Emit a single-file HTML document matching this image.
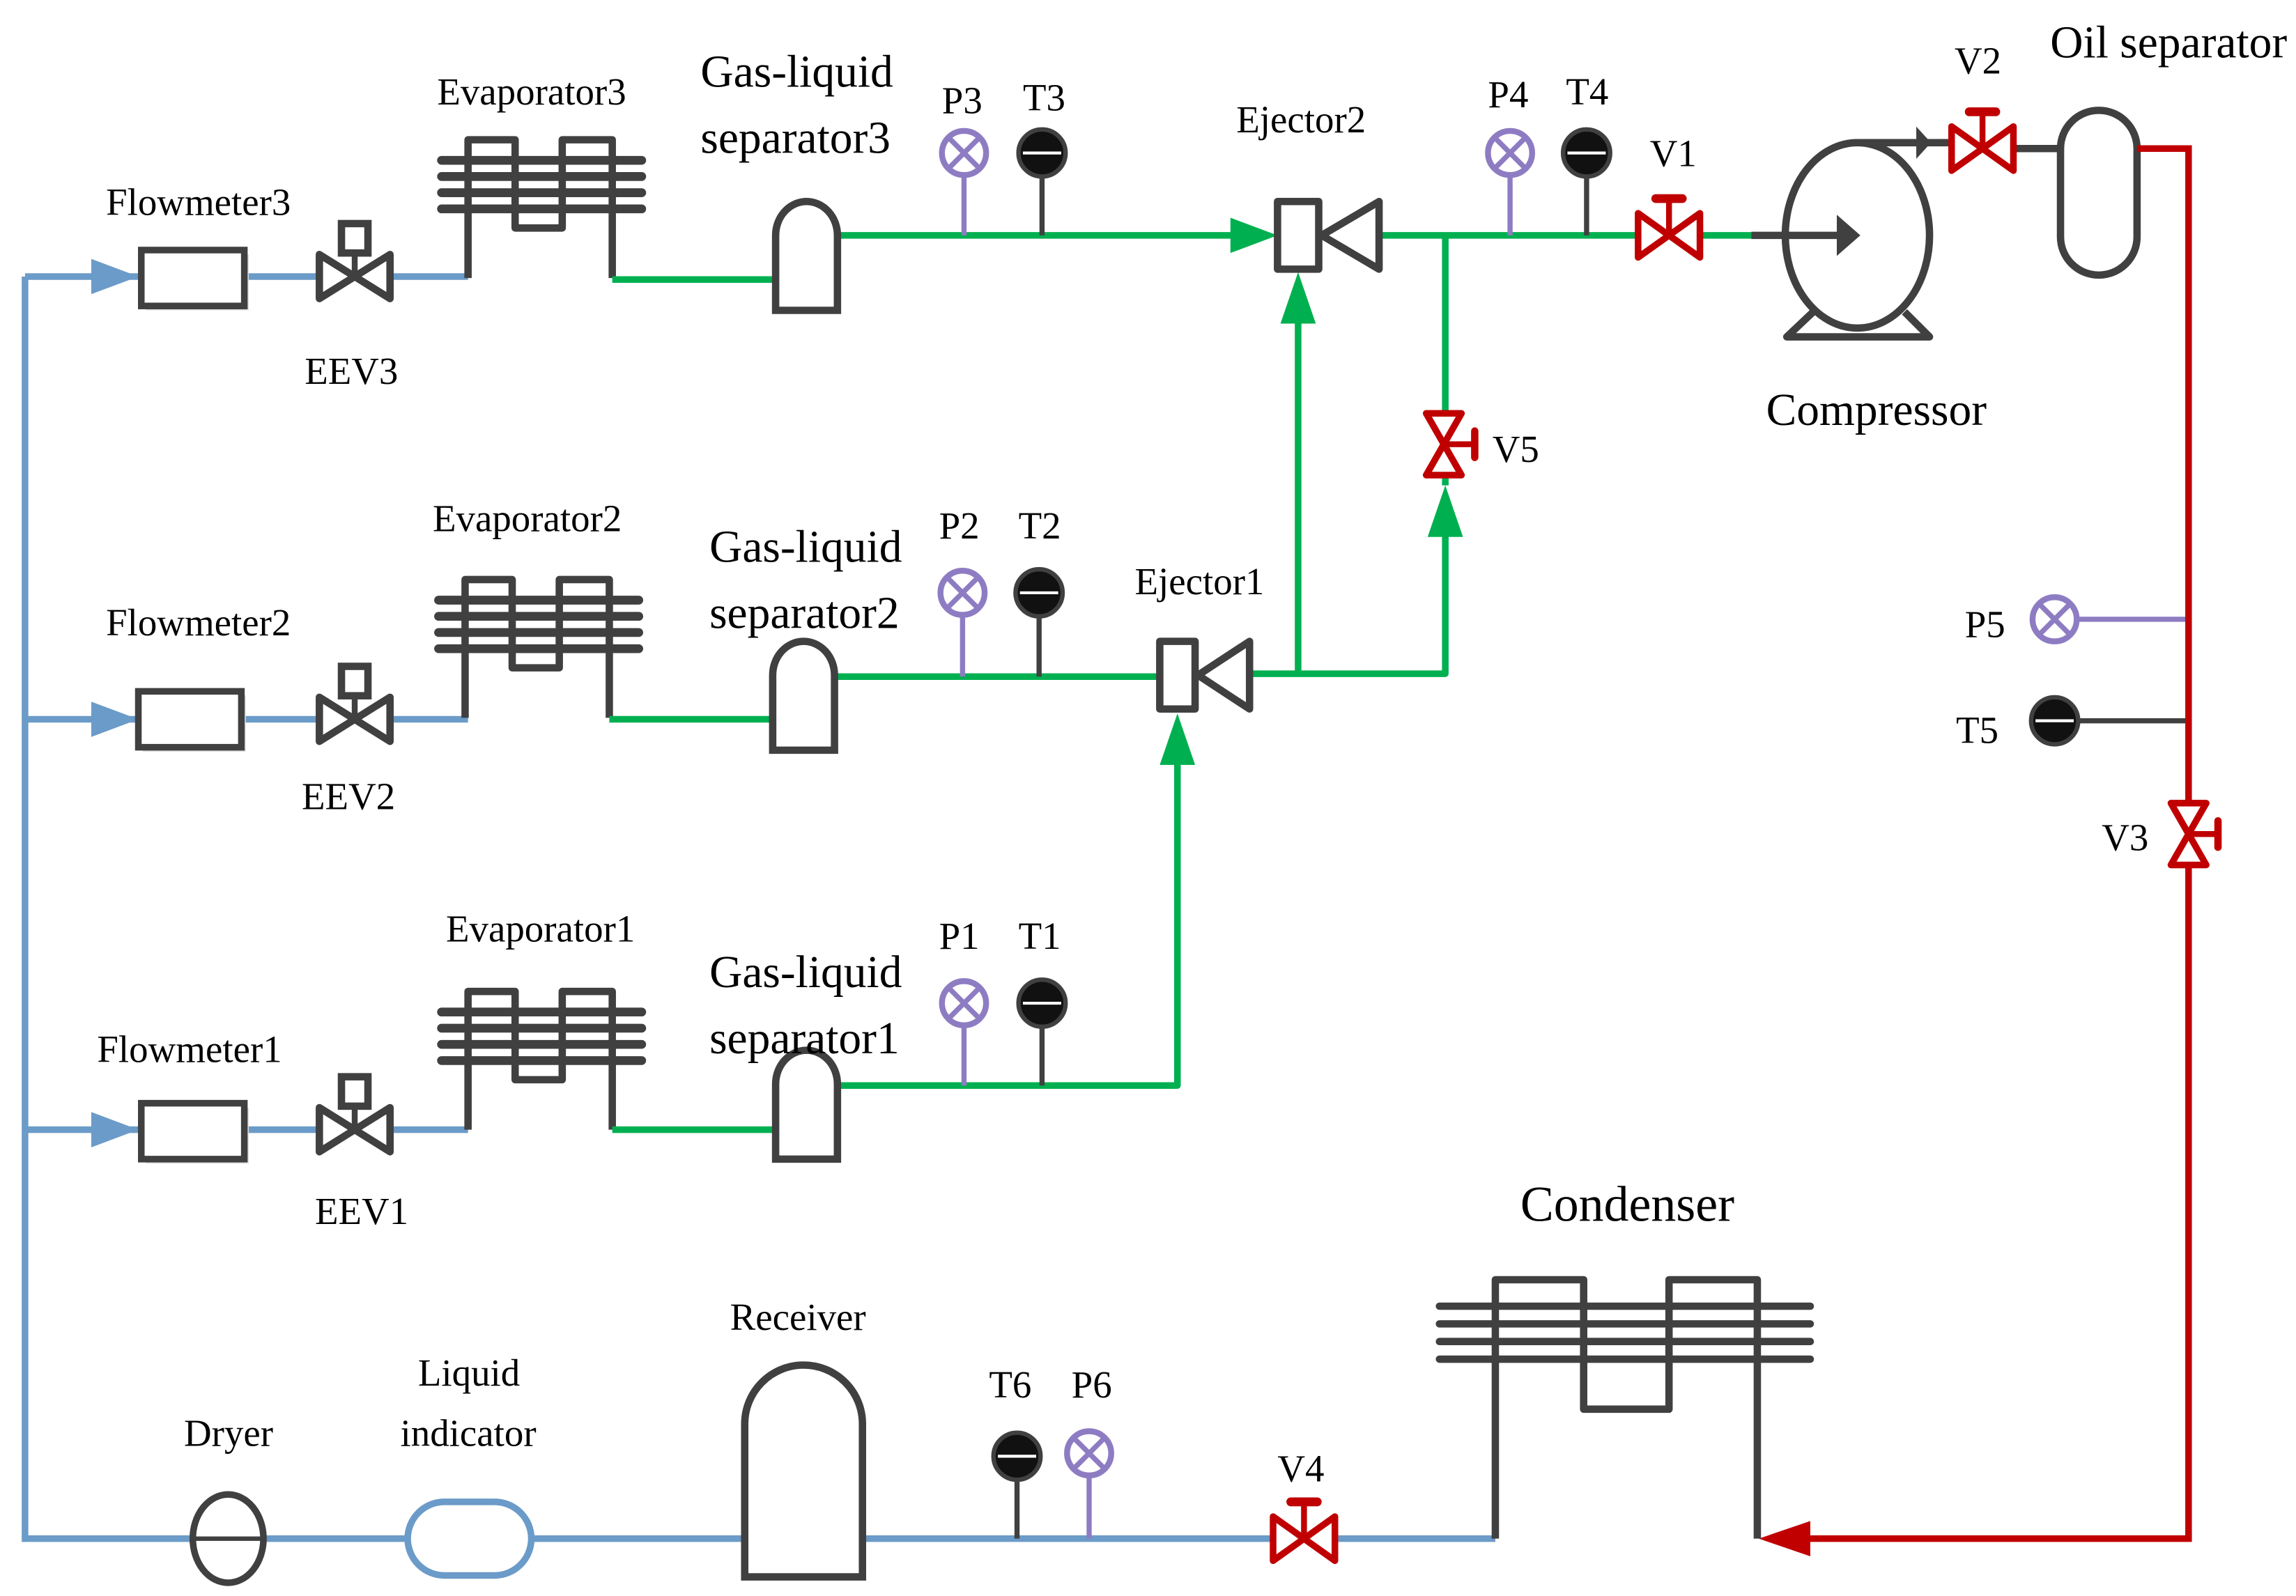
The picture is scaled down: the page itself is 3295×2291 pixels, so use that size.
<!DOCTYPE html>
<html><head><meta charset="utf-8"><style>
html,body{margin:0;padding:0;background:#fff}
svg{display:block}
text{font-family:"Liberation Serif",serif;fill:#000}
</style></head><body>
<svg width="3295" height="2291" viewBox="0 0 1560 1085" preserveAspectRatio="none" xmlns="http://www.w3.org/2000/svg">
<defs>
<g id="evap" fill="none" stroke="#404040" stroke-width="5" stroke-linejoin="round">
<path d="M0,96 V2 H32 V62 H64 V2 H98 V96"/>
<path d="M-18,16 H118 M-18,27 H118 M-18,38 H118 M-18,49 H118" stroke-linecap="round" stroke-width="6"/>
</g>
<g id="eev">
<path d="M-24,-15 L24,15 V-15 L-24,15 Z" fill="#fff" stroke="#404040" stroke-width="5" stroke-linejoin="round"/>
<line x1="0" y1="0" x2="0" y2="-16" stroke="#404040" stroke-width="4"/>
<rect x="-9" y="-36" width="18" height="20" fill="#fff" stroke="#404040" stroke-width="5"/>
</g>
<g id="sep">
<path d="M0,74 V23 A21,23 0 0 1 42,23 V74 Z" fill="#fff" stroke="#404040" stroke-width="5"/>
</g>
<g id="pg">
<circle r="15" fill="#fff" stroke="#8e7cc3" stroke-width="4"/>
<path d="M-10,-10 L10,10 M10,-10 L-10,10" stroke="#8e7cc3" stroke-width="3.5"/>
</g>
<g id="tg">
<circle r="16" fill="#111" stroke="#404040" stroke-width="3"/>
<line x1="-13" y1="0" x2="13" y2="0" stroke="#fff" stroke-width="2"/>
</g>
<g id="rv">
<path d="M-21,-15 L21,15 V-15 L-21,15 Z" fill="#fff" stroke="#c00000" stroke-width="4.5" stroke-linejoin="round"/>
<line x1="0" y1="0" x2="0" y2="-24" stroke="#c00000" stroke-width="4"/>
<line x1="-9" y1="-25" x2="9" y2="-25" stroke="#c00000" stroke-width="6" stroke-linecap="round"/>
</g>
<g id="fm">
<rect x="3" y="3" width="70" height="38" fill="#ddd"/>
<rect x="0" y="0" width="70" height="38" fill="#fff" stroke="#404040" stroke-width="4.5"/>
</g>
</defs>

<g stroke="#6b9bc8" stroke-width="4.5" fill="none">
<path d="M17,188 V1046 H1016"/>
<path d="M17,188 H96 M166,188 H318"/>
<path d="M17,489 H94 M164,489 H318"/>
<path d="M17,768 H96 M166,768 H318"/>
</g>
<g fill="#6b9bc8">
<path d="M62,176 L94,188 L62,200 Z"/>
<path d="M62,477 L94,489 L62,501 Z"/>
<path d="M62,756 L94,768 L62,780 Z"/>
</g>
<use href="#fm" x="96" y="170"/>
<use href="#fm" x="94" y="470"/>
<use href="#fm" x="96" y="750"/>
<use href="#eev" x="241" y="188"/>
<use href="#eev" x="241" y="489"/>
<use href="#eev" x="241" y="768"/>
<use href="#evap" x="318" y="93"/>
<use href="#evap" x="316" y="392"/>
<use href="#evap" x="318" y="672"/>

<g stroke="#00b050" stroke-width="4.5" fill="none" stroke-linejoin="round">
<path d="M416,190 H527 M569,160 H840"/>
<path d="M414,489 H525 M567,460 H788"/>
<path d="M416,768 H527 M569,738 H800 V515"/>
<path d="M850,458 H982 V360"/>
<path d="M882,458 V215"/>
<path d="M938,160 H1190"/>
<path d="M982,160 V330"/>
</g>
<g fill="#00b050">
<path d="M836,148 L868,160 L836,172 Z"/>
<path d="M788,520 L800,485 L812,520 Z"/>
<path d="M870,220 L882,185 L894,220 Z"/>
<path d="M970,365 L982,330 L994,365 Z"/>
</g>
<use href="#sep" x="527" y="137"/>
<use href="#sep" x="525" y="436"/>
<use href="#sep" x="527" y="714"/>

<g stroke-width="3.5">
<line x1="655" y1="104" x2="655" y2="160" stroke="#8e7cc3"/>
<line x1="708" y1="104" x2="708" y2="160" stroke="#404040"/>
<line x1="654" y1="403" x2="654" y2="460" stroke="#8e7cc3"/>
<line x1="706" y1="403" x2="706" y2="460" stroke="#404040"/>
<line x1="655" y1="682" x2="655" y2="738" stroke="#8e7cc3"/>
<line x1="708" y1="682" x2="708" y2="738" stroke="#404040"/>
<line x1="1026" y1="104" x2="1026" y2="160" stroke="#8e7cc3"/>
<line x1="1078" y1="104" x2="1078" y2="160" stroke="#404040"/>
<line x1="1396" y1="421" x2="1487" y2="421" stroke="#8e7cc3"/>
<line x1="1396" y1="490" x2="1487" y2="490" stroke="#404040"/>
<line x1="691" y1="990" x2="691" y2="1046" stroke="#404040"/>
<line x1="740" y1="988" x2="740" y2="1046" stroke="#8e7cc3"/>
</g>
<use href="#pg" x="655" y="104"/><use href="#tg" x="708" y="104"/>
<use href="#pg" x="654" y="403"/><use href="#tg" x="706" y="403"/>
<use href="#pg" x="655" y="682"/><use href="#tg" x="708" y="682"/>
<use href="#pg" x="1026" y="104"/><use href="#tg" x="1078" y="104"/>
<use href="#pg" x="1396" y="421"/><use href="#tg" x="1396" y="490"/>
<use href="#tg" x="691" y="990"/><use href="#pg" x="740" y="988"/>

<g fill="#fff" stroke="#404040" stroke-width="5" stroke-linejoin="round">
<rect x="868" y="137" width="28" height="46"/>
<path d="M898,160 L937,137 V183 Z"/>
<rect x="788" y="436" width="24" height="46"/>
<path d="M814,459 L849,436 V482 Z"/>
</g>

<g transform="translate(981,302) rotate(90)">
<path d="M-21,-12 L21,12 V-12 L-21,12 Z" fill="#fff" stroke="#c00000" stroke-width="4.5" stroke-linejoin="round"/>
<line x1="0" y1="0" x2="0" y2="-20" stroke="#c00000" stroke-width="4"/>
<line x1="-9" y1="-21" x2="9" y2="-21" stroke="#c00000" stroke-width="5" stroke-linecap="round"/>
</g>
<use href="#rv" x="1134" y="160"/>

<g stroke="#404040" stroke-width="5" fill="none" stroke-linejoin="round">
<path d="M1262,97 H1330"/>
<path d="M1368,101 H1400"/>
<ellipse cx="1262" cy="160" rx="49" ry="63" fill="#fff"/>
<path d="M1232,212 L1214,229 H1311 L1294,212"/>
<path d="M1190,160 H1250"/>
</g>
<path d="M1248,146 L1264,160 L1248,174 Z" fill="#404040"/>
<path d="M1302,86 L1312,97 L1302,108 Z" fill="#404040"/>
<use href="#rv" x="1347" y="101"/>
<rect x="1400" y="75" width="52" height="112" rx="26" fill="#fff" stroke="#404040" stroke-width="5"/>

<g stroke="#c00000" stroke-width="4.5" fill="none">
<path d="M1452,101 H1487 V1046 H1225"/>
</g>
<path d="M1230,1034 L1195,1046 L1230,1058 Z" fill="#c00000"/>
<g transform="translate(1487,567) rotate(90)">
<path d="M-21,-12 L21,12 V-12 L-21,12 Z" fill="#fff" stroke="#c00000" stroke-width="4.5" stroke-linejoin="round"/>
<line x1="0" y1="0" x2="0" y2="-19" stroke="#c00000" stroke-width="4"/>
<line x1="-9" y1="-20" x2="9" y2="-20" stroke="#c00000" stroke-width="5" stroke-linecap="round"/>
</g>

<g fill="none" stroke="#404040" stroke-width="5" stroke-linejoin="round">
<path d="M1016,1046 V870 H1076 V958 H1134 V870 H1194 V1046"/>
<path d="M978,888 H1230 M978,900 H1230 M978,912 H1230 M978,924 H1230" stroke-linecap="round"/>
</g>

<ellipse cx="155" cy="1046" rx="24" ry="30" fill="#fff" stroke="#404040" stroke-width="4.5"/>
<line x1="131" y1="1046" x2="179" y2="1046" stroke="#404040" stroke-width="3"/>
<rect x="277" y="1021" width="84" height="50" rx="25" fill="#fff" stroke="#6b9bc8" stroke-width="4.5"/>
<path d="M506,1072 V968 A40,40 0 0 1 586,968 V1072 Z" fill="#fff" stroke="#404040" stroke-width="5"/>
<use href="#rv" x="886" y="1046"/>

<g font-size="26">
<text x="72" y="146">Flowmeter3</text>
<text x="72" y="432">Flowmeter2</text>
<text x="66" y="722">Flowmeter1</text>
<text x="207" y="261">EEV3</text>
<text x="205" y="550">EEV2</text>
<text x="214" y="832">EEV1</text>
<text x="297" y="71">Evaporator3</text>
<text x="294" y="361">Evaporator2</text>
<text x="303" y="640">Evaporator1</text>
<text x="640" y="77">P3</text><text x="695" y="75">T3</text>
<text x="638" y="366">P2</text><text x="692" y="366">T2</text>
<text x="638" y="645">P1</text><text x="692" y="645">T1</text>
<text x="1011" y="73">P4</text><text x="1064" y="71">T4</text>
<text x="840" y="90">Ejector2</text>
<text x="771" y="404">Ejector1</text>
<text x="1121" y="113">V1</text>
<text x="1328" y="50">V2</text>
<text x="1014" y="314">V5</text>
<text x="1335" y="433">P5</text>
<text x="1329" y="505">T5</text>
<text x="1428" y="578">V3</text>
<text x="868" y="1007">V4</text>
<text x="672" y="950">T6</text><text x="728" y="950">P6</text>
<text x="125" y="983">Dryer</text>
<text x="284" y="942">Liquid</text>
<text x="272" y="983">indicator</text>
<text x="496" y="904">Receiver</text>
</g>
<g font-size="31">
<text x="476" y="59">Gas-liquid</text>
<text x="476" y="104">separator3</text>
<text x="482" y="382">Gas-liquid</text>
<text x="482" y="427">separator2</text>
<text x="482" y="671">Gas-liquid</text>
<text x="482" y="716">separator1</text>
<text x="1393" y="39">Oil separator</text>
<text x="1200" y="289">Compressor</text>
</g>
<text x="1033" y="830" font-size="34">Condenser</text>
</svg>
</body></html>
